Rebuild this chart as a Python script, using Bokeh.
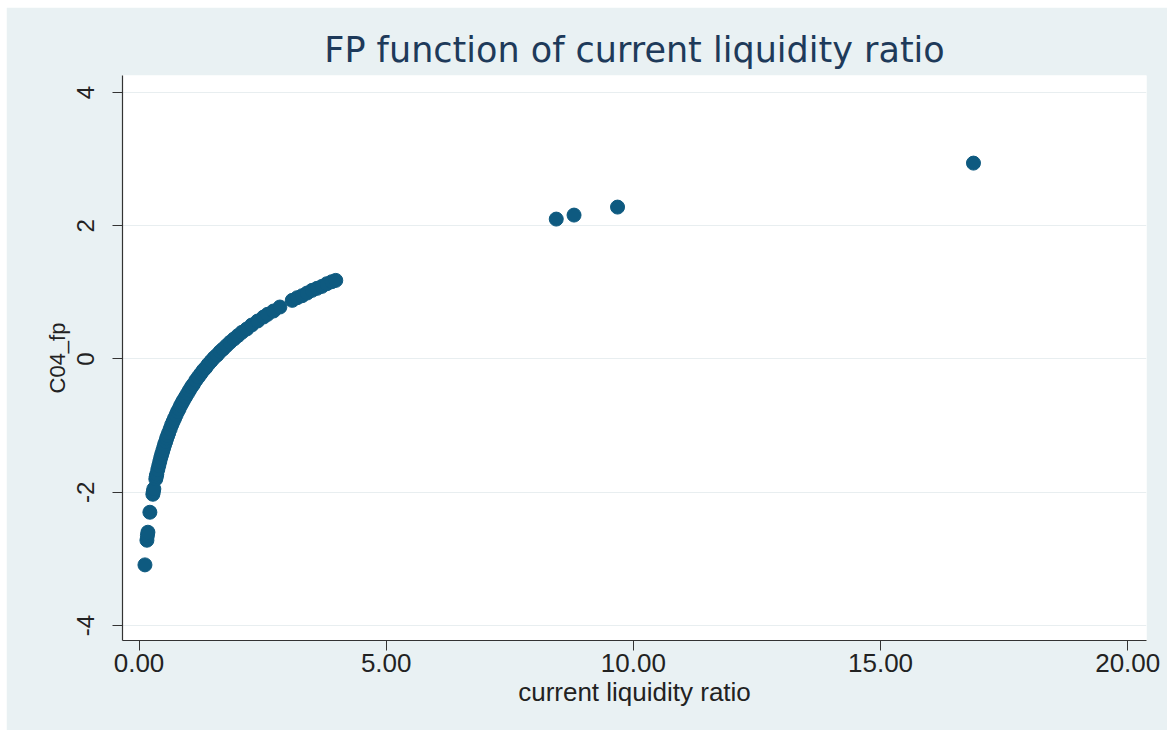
from bokeh.plotting import figure
from bokeh.models import Range1d, FixedTicker
from bokeh.embed import file_html
from bokeh.resources import INLINE

# data
ratio = [0.12, 0.16, 0.17, 0.18, 0.22, 0.28, 0.29, 0.30, 0.34, 0.35, 0.36, 0.38,
         0.40, 0.42, 0.44, 0.46, 0.48, 0.50, 0.52, 0.54, 0.56, 0.58, 0.60, 0.63,
         0.66, 0.69, 0.72, 0.75, 0.78, 0.81, 0.84, 0.87, 0.90, 0.94, 0.98, 1.02,
         1.06, 1.10, 1.15, 1.20, 1.25, 1.30, 1.35, 1.40, 1.46, 1.52, 1.58, 1.64,
         1.70, 1.77, 1.84, 1.92, 2.00, 2.08, 2.18, 2.28, 2.40, 2.52, 2.60, 2.72,
         2.85, 3.10, 3.20, 3.30, 3.40, 3.50, 3.60, 3.70, 3.80, 3.90, 3.98,
         8.44, 8.80, 9.68, 16.88]
fp = [-3.09, -2.72, -2.65, -2.60, -2.30, -2.03, -1.99, -1.95, -1.80, -1.76, -1.73, -1.66,
      -1.60, -1.54, -1.48, -1.43, -1.38, -1.33, -1.28, -1.24, -1.19, -1.15, -1.11, -1.05,
      -0.99, -0.94, -0.89, -0.84, -0.79, -0.75, -0.70, -0.66, -0.62, -0.57, -0.52, -0.47,
      -0.42, -0.38, -0.32, -0.27, -0.22, -0.17, -0.13, -0.08, -0.03, 0.02, 0.06, 0.11,
      0.15, 0.20, 0.25, 0.30, 0.35, 0.40, 0.45, 0.51, 0.57, 0.63, 0.67, 0.72,
      0.78, 0.88, 0.92, 0.95, 0.99, 1.03, 1.06, 1.09, 1.13, 1.16, 1.18,
      2.10, 2.16, 2.28, 2.94]
x_ticks = [0, 5, 10, 15, 20]
x_tick_labels = ["0.00", "5.00", "10.00", "15.00", "20.00"]
y_ticks = [-4, -2, 0, 2, 4]
y_tick_labels = ["-4", "-2", "0", "2", "4"]

BG = "#E9F1F3"
FONT = "Liberation Sans"

p = figure(width=1161, height=723, output_backend="svg", toolbar_location=None,
           x_range=Range1d(-0.334, 20.38), y_range=Range1d(-4.225, 4.255),
           min_border_left=116, min_border_right=21, min_border_top=68,
           min_border_bottom=90)
p.margin = (7, 0, 0, 6)
p.background_fill_color = "white"
p.border_fill_color = BG
p.outline_line_color = None

p.title.text = "FP function of current liquidity ratio"
p.title.align = "center"
p.title.text_font = "DejaVu Sans"
p.title.text_font_size = "35px"
p.title.text_font_style = "normal"
p.title.text_color = "#1E3A5A"
p.title.standoff = 11

p.scatter(ratio, fp, size=14, fill_color="#0E5A80", line_color="#0E5A80")

xa = p.xaxis[0]
xa.ticker = FixedTicker(ticks=x_ticks)
xa.major_label_overrides = {t: l for t, l in zip(x_ticks, x_tick_labels)}
xa.axis_label = "current liquidity ratio"
ya = p.yaxis[0]
ya.ticker = FixedTicker(ticks=y_ticks)
ya.major_label_overrides = {t: l for t, l in zip(y_ticks, y_tick_labels)}
ya.axis_label = "C04_fp"
ya.major_label_orientation = "vertical"

for ax in (xa, ya):
    ax.axis_line_color = "#333333"
    ax.axis_line_width = 1.2
    ax.major_tick_line_color = "#333333"
    ax.major_tick_out = 10
    ax.major_tick_in = 0
    ax.minor_tick_line_color = None
    ax.major_label_text_font = FONT
    ax.major_label_text_color = "#222222"
    ax.axis_label_text_font = FONT
    ax.axis_label_text_font_style = "normal"
    ax.axis_label_text_color = "#222222"

xa.major_label_text_font_size = "26px"
xa.axis_label_text_font_size = "26px"
ya.major_label_text_font_size = "24px"
ya.axis_label_text_font_size = "22px"
xa.major_label_standoff = 3
xa.axis_label_standoff = 2
ya.major_label_standoff = 18
ya.axis_label_standoff = 5

p.xgrid.grid_line_color = None
p.ygrid.grid_line_color = "#E8EEF0"
p.ygrid.grid_line_width = 1

open("out.html", "w").write(file_html(p, INLINE))
